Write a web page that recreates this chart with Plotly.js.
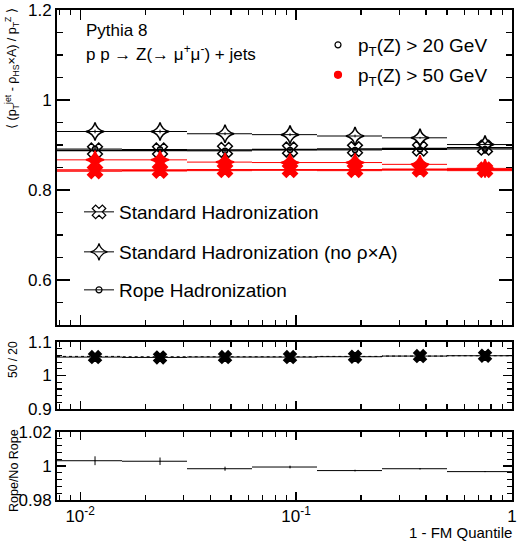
<!DOCTYPE html>
<html>
<head>
<meta charset="utf-8">
<script src="https://cdn.plot.ly/plotly-3.0.1.min.js"></script>
<style>html,body{margin:0;padding:0;background:#fff;}#chart{width:520px;height:542px;}</style>
</head>
<body>
<div id="chart"></div>
<script>
// ---------------- data ----------------
const binEdges = [0.0078125, 0.015625, 0.03125, 0.0625, 0.125, 0.25, 0.5, 1];

// pT(Z) > 20 GeV
const std20     = [0.888, 0.888, 0.889, 0.890, 0.891, 0.892, 0.894];
const noRhoA20  = [0.930, 0.930, 0.925, 0.923, 0.920, 0.916, 0.901];
const rope20    = [0.891, 0.890, 0.887, 0.889, 0.889, 0.890, 0.891];
const err20     = [0.004, 0.004, 0.003, 0.003, 0.003, 0.002, 0.002];

// pT(Z) > 50 GeV
const std50     = [0.842, 0.843, 0.845, 0.845, 0.845, 0.846, 0.845];
const noRhoA50  = [0.867, 0.867, 0.862, 0.861, 0.861, 0.857, 0.848];
const rope50    = [0.845, 0.845, 0.843, 0.844, 0.843, 0.844, 0.843];
const err50     = [0.006, 0.006, 0.005, 0.005, 0.004, 0.004, 0.003];

// ratio panel 50 / 20
const ratioStd    = [1.055, 1.054, 1.055, 1.055, 1.056, 1.058, 1.059];
const ratioNoRho  = [1.057, 1.056, 1.056, 1.056, 1.057, 1.058, 1.059];
const ratioErr    = [0.003, 0.003, 0.002, 0.002, 0.002, 0.002, 0.002];

// ratio panel Rope / No Rope
const ropeRatio    = [1.0031, 1.0028, 0.9984, 0.9994, 0.9973, 0.9984, 0.9967];
const ropeRatioErr = [0.0026, 0.0022, 0.0012, 0.0008, 0.0005, 0.0004, 0.0003];

// tick labels
const xTickVals  = [0.01, 0.1, 1];
const xTickText  = ['10<sup>-2</sup>', '10<sup>-1</sup>', '1'];

// ---------------- derived ----------------
const xc = [], exm = [], exp = [];
for (let i = 0; i < binEdges.length - 1; i++) {
  const c = (binEdges[i] + binEdges[i + 1]) / 2;
  xc.push(c); exm.push(c - binEdges[i]); exp.push(binEdges[i + 1] - c);
}
const minorX = [];
for (let d = -3; d < 0; d++) for (let k = 2; k <= 9; k++) {
  const v = k * Math.pow(10, d);
  if (v > binEdges[0] && v < 1) minorX.push(v);
}

const FONT = 'Liberation Sans, Arial, Helvetica, sans-serif';
const RED = '#ff0000';

function series(y, ey, color, symbol, size, xa, ya, lw) {
  return {
    type: 'scatter', mode: 'markers', x: xc, y: y, xaxis: xa, yaxis: ya,
    showlegend: false, hoverinfo: 'skip',
    error_x: {type: 'data', symmetric: false, array: exp, arrayminus: exm, width: 0, thickness: lw || 1, color: color},
    error_y: {type: 'data', array: ey, width: 0, thickness: 1, color: color},
    marker: {symbol: symbol, size: size, color: color, line: {color: color, width: 1.5}}
  };
}

const traces = [
  // main panel
  series(std20, err20, '#000', 'x-open', 13, 'x', 'y', 1.5),
  series(rope20, err20, '#000', 'circle-open', 5, 'x', 'y', 1),
  series(noRhoA20, err20, '#000', 'star-diamond-open', 13, 'x', 'y', 1),
  series(std50, err50, RED, 'x', 13, 'x', 'y', 1.5),
  series(rope50, err50, RED, 'circle', 5, 'x', 'y', 1),
  series(noRhoA50, err50, RED, 'star-diamond', 13, 'x', 'y', 1),
  // middle panel
  {
    type: 'scatter', mode: 'lines', x: binEdges, y: ratioNoRho.concat([ratioNoRho[ratioNoRho.length - 1]]),
    xaxis: 'x2', yaxis: 'y2', line: {shape: 'hv', color: '#000', width: 1, dash: 'dot'},
    showlegend: false, hoverinfo: 'skip'
  },
  series(ratioStd, ratioErr, '#000', 'x', 11, 'x2', 'y2', 1),
  // bottom panel
  Object.assign(series(ropeRatio, ropeRatioErr, '#000', 'circle', 1, 'x3', 'y3', 1), {marker: {size: 1, color: '#000'}})
];

// legend entries
function legendEntry(name, color, symbol, size, legendId, mode) {
  return {
    type: 'scatter', mode: mode || 'lines+markers', x: [null], y: [null], xaxis: 'x', yaxis: 'y',
    name: name, legend: legendId, showlegend: true, hoverinfo: 'skip',
    line: {color: color, width: 1},
    marker: {symbol: symbol, size: size, color: color, line: {color: color, width: 1.2}}
  };
}
traces.push(legendEntry('p<sub>T</sub>(Z) > 20 GeV', '#000', 'circle-open', 6, 'legend', 'markers'));
traces.push(legendEntry('p<sub>T</sub>(Z) > 50 GeV', RED, 'circle', 7, 'legend2', 'markers'));
traces.push(legendEntry('Standard Hadronization', '#000', 'x-open', 12, 'legend3'));
traces.push(legendEntry('Standard Hadronization (no ρ×A)', '#000', 'star-diamond-open', 12, 'legend4'));
traces.push(legendEntry('Rope Hadronization', '#000', 'circle-open', 6, 'legend5'));

// ---------------- layout ----------------
const L = 57, R = 512, T = 10, B = 500, W = 520, H = 542;
const px = v => (v - L) / (R - L);
const py = v => (B - v) / (B - T);

function xAxis(showLabels, anchor, majLen, minLen) {
  return {
    type: 'log', range: [Math.log10(binEdges[0]), 0], anchor: anchor,
    showline: true, linewidth: 2, linecolor: '#000', mirror: 'allticks',
    ticks: 'inside', ticklen: majLen, tickwidth: 1.2, tickcolor: '#000',
    tickmode: 'array', tickvals: xTickVals, ticktext: xTickText,
    showticklabels: showLabels, tickfont: {family: FONT, size: 17, color: '#000'},
    minor: {tickmode: 'array', tickvals: minorX, ticks: 'inside', ticklen: minLen, tickwidth: 1.2, tickcolor: '#000'},
    showgrid: false, zeroline: false, fixedrange: true
  };
}
function yAxis(domain, range, dtick, minorDtick, anchor, majLen, minLen) {
  return {
    domain: domain, range: range, anchor: anchor,
    showline: true, linewidth: 2, linecolor: '#000', mirror: 'allticks',
    ticks: 'inside', ticklen: majLen, tickwidth: 1.2, tickcolor: '#000',
    tick0: 0, dtick: dtick,
    tickfont: {family: FONT, size: 17, color: '#000'},
    minor: {dtick: minorDtick, ticks: 'inside', ticklen: minLen, tickwidth: 1.2, tickcolor: '#000'},
    showgrid: false, zeroline: false, fixedrange: true
  };
}

const legBase = {
  bgcolor: 'rgba(0,0,0,0)', borderwidth: 0, font: {family: FONT, size: 19, color: '#000'},
  itemwidth: 30, xanchor: 'left', yanchor: 'middle', tracegroupgap: 0, itemclick: false, itemdoubleclick: false
};

const layout = {
  width: W, height: H,
  margin: {l: L, r: W - R, t: T, b: H - B, pad: 0},
  paper_bgcolor: '#fff', plot_bgcolor: '#fff',
  font: {family: FONT, color: '#000'},
  showlegend: true,
  xaxis: xAxis(false, 'y', 10, 5),
  xaxis2: xAxis(false, 'y2', 8, 5),
  xaxis3: xAxis(true, 'y3', 8, 5),
  yaxis: yAxis([py(325), 1], [0.5, 1.2], 0.2, 0.05, 'x', 13, 6),
  yaxis2: yAxis([py(409), py(342)], [0.9, 1.1], 0.1, 0.02, 'x2', 9, 5),
  yaxis3: yAxis([0, py(432)], [0.98, 1.02], 0.02, 0.004, 'x3', 9, 5),
  legend:  Object.assign({}, legBase, {x: px(318), y: py(45)}),
  legend2: Object.assign({}, legBase, {x: px(318), y: py(75)}),
  legend3: Object.assign({}, legBase, {x: px(79), y: py(212)}),
  legend4: Object.assign({}, legBase, {x: px(79), y: py(252)}),
  legend5: Object.assign({}, legBase, {x: px(79), y: py(290)}),
  annotations: [
    {text: 'Pythia 8', xref: 'paper', yref: 'paper', x: px(84), y: py(30), xanchor: 'left', yanchor: 'middle',
     showarrow: false, font: {family: FONT, size: 17}},
    {text: 'p p → Z(→ μ<sup>+</sup>μ<sup>-</sup>) + jets', xref: 'paper', yref: 'paper', x: px(84), y: py(53),
     xanchor: 'left', yanchor: 'middle', showarrow: false, font: {family: FONT, size: 17}},
    {text: '⟨ (p<sub>T</sub><sup>jet</sup> - ρ<sub>HS</sub>×A) / p<sub>T</sub><sup>Z</sup> ⟩', xref: 'paper', yref: 'paper',
     x: px(12), y: py(69), xanchor: 'center', yanchor: 'middle', textangle: -90, showarrow: false,
     font: {family: FONT, size: 12.5}},
    {text: '50 / 20', xref: 'paper', yref: 'paper', x: px(13), y: py(360), xanchor: 'center', yanchor: 'middle',
     textangle: -90, showarrow: false, font: {family: FONT, size: 12}},
    {text: 'Rope/No Rope', xref: 'paper', yref: 'paper', x: px(14), y: py(471), xanchor: 'center', yanchor: 'middle',
     textangle: -90, showarrow: false, font: {family: FONT, size: 12.5}},
    {text: '1 - FM Quantile', xref: 'paper', yref: 'paper', x: px(514), y: py(532), xanchor: 'right', yanchor: 'middle',
     showarrow: false, font: {family: FONT, size: 15}}
  ]
};

Plotly.newPlot('chart', traces, layout, {staticPlot: true, displayModeBar: false});
</script>
</body>
</html>
